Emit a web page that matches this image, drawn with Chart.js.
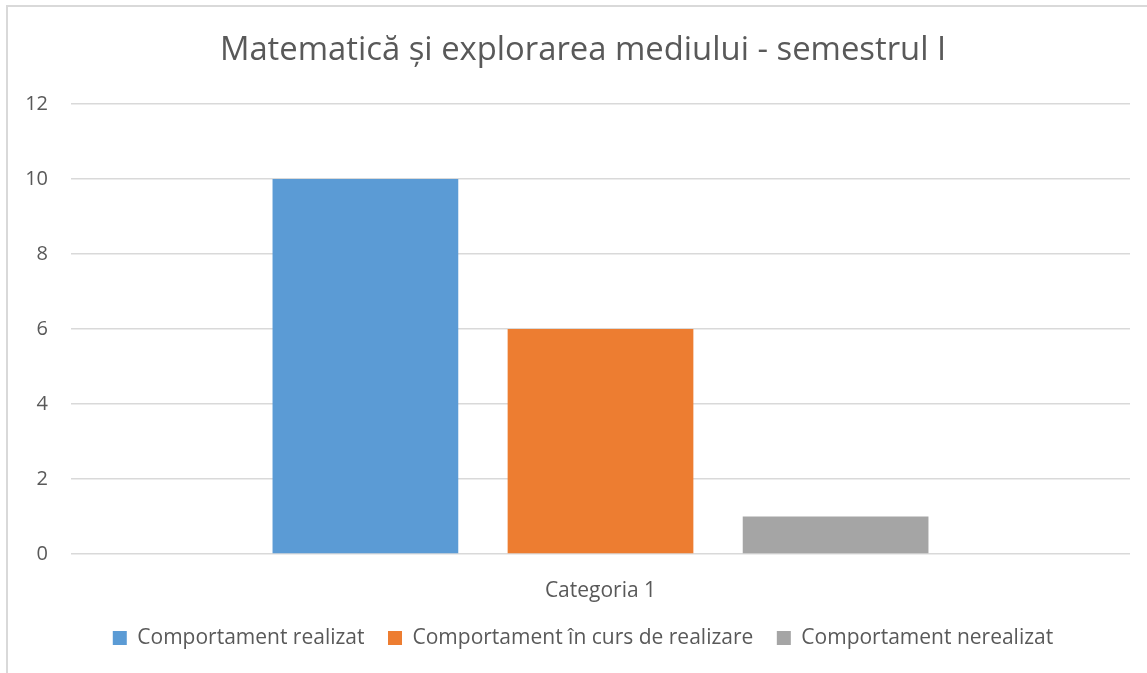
<!DOCTYPE html>
<html lang="ro">
<head>
  <meta charset="UTF-8">
  <title>Matematică și explorarea mediului - semestrul I</title>
  <script src="https://cdn.jsdelivr.net/npm/chart.js"></script>
  <style>
    html, body { margin: 0; padding: 0; background: #fff; }
    .chart-box {
      position: absolute;
      left: 6px;
      top: 5px;
      width: 1141px;
      height: 668px;
      border-left: 2px solid #d9d9d9;
      border-top: 2px solid #d9d9d9;
      box-sizing: border-box;
    }
  </style>
</head>
<body>
  <div class="chart-box">
    <canvas id="barChart"></canvas>
  </div>

  <script>
    // chart data
    const categories = ['Categoria 1'];
    const seriesNames = ['Comportament realizat', 'Comportament în curs de realizare', 'Comportament nerealizat'];
    const seriesValues = [[10], [6], [1]];
    const seriesColors = ['#5b9bd5', '#ed7d31', '#a5a5a5'];
    const yTicks = [0, 2, 4, 6, 8, 10, 12];

    const textColor = '#595959';
    const fontFamily = "'Open Sans', 'Noto Sans', sans-serif";

    const ctx = document.getElementById('barChart').getContext('2d');
    new Chart(ctx, {
      type: 'bar',
      data: {
        labels: categories,
        datasets: seriesNames.map((name, i) => ({
          label: name,
          data: seriesValues[i],
          backgroundColor: seriesColors[i],
          borderWidth: 0,
          categoryPercentage: 0.666,
          barPercentage: 0.79
        }))
      },
      options: {
        responsive: true,
        maintainAspectRatio: false,
        animation: false,
        layout: { padding: { left: 14, right: 3, top: 0, bottom: 14.5 } },
        plugins: {
          title: {
            display: true,
            text: 'Matematică și explorarea mediului - semestrul I',
            color: textColor,
            font: { family: fontFamily, size: 32.8, weight: 'normal', lineHeight: 1.2 },
            padding: { top: 24, bottom: 33.6 }
          },
          legend: {
            position: 'bottom',
            labels: {
              color: textColor,
              font: { family: fontFamily, size: 21 },
              boxWidth: 14,
              boxHeight: 14,
              padding: 23.5
            }
          },
          tooltip: { enabled: false }
        },
        scales: {
          x: {
            grid: { display: false, drawTicks: false },
            border: { display: false },
            afterFit: axis => { axis.height = 50; },
            ticks: {
              color: textColor,
              font: { family: fontFamily, size: 21, lineHeight: 1.2 },
              padding: 24
            }
          },
          y: {
            min: 0,
            max: 12,
            afterBuildTicks: axis => { axis.ticks = yTicks.map(v => ({ value: v })); },
            afterFit: axis => { axis.width = 49; },
            grid: { color: '#d9d9d9', lineWidth: 1.5, drawTicks: false },
            border: { display: false },
            ticks: {
              color: textColor,
              font: { family: fontFamily, size: 20 },
              padding: 23
            }
          },
          // empty right-hand spacer so the plot ends where the reference's does
          yRight: {
            position: 'right',
            grid: { display: false, drawTicks: false },
            border: { display: false },
            ticks: { display: false },
            afterFit: axis => { axis.width = 14; }
          }
        }
      }
    });
  </script>
</body>
</html>
